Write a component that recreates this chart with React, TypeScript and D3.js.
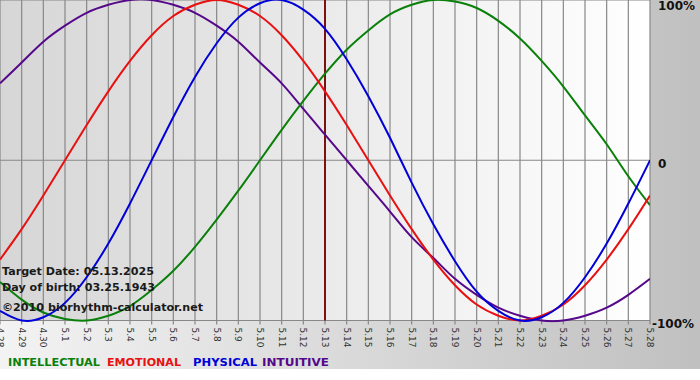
import React from "react";
import * as d3 from "d3";

const days = ["4.28","4.29","4.30","5.1","5.2","5.3","5.4","5.5","5.6","5.7","5.8","5.9","5.10","5.11","5.12","5.13","5.14","5.15","5.16","5.17","5.18","5.19","5.20","5.21","5.22","5.23","5.24","5.25","5.26","5.27","5.28"];
const targetDay = "5.13";

const intellectual = [-0.76,-0.87,-0.95,-0.99,-1.0,-0.97,-0.91,-0.81,-0.69,-0.54,-0.37,-0.19,0,0.19,0.37,0.54,0.69,0.81,0.91,0.97,1.0,0.99,0.95,0.87,0.76,0.62,0.46,0.28,0.1,-0.1,-0.28];
const emotional = [-0.62,-0.43,-0.22,0,0.22,0.43,0.62,0.78,0.9,0.97,1.0,0.97,0.9,0.78,0.62,0.43,0.22,0,-0.22,-0.43,-0.62,-0.78,-0.9,-0.97,-1.0,-0.97,-0.9,-0.78,-0.62,-0.43,-0.22];
const physical = [-0.94,-1.0,-0.98,-0.89,-0.73,-0.52,-0.27,0,0.27,0.52,0.73,0.89,0.98,1.0,0.94,0.82,0.63,0.4,0.14,-0.14,-0.4,-0.63,-0.82,-0.94,-1.0,-0.98,-0.89,-0.73,-0.52,-0.27,0];
const intuitive = [0.48,0.61,0.74,0.84,0.92,0.97,1.0,1.0,0.97,0.92,0.84,0.74,0.61,0.48,0.32,0.16,0,-0.16,-0.32,-0.48,-0.61,-0.74,-0.84,-0.92,-0.97,-1.0,-1.0,-0.97,-0.92,-0.84,-0.74];

const yTicks = [1, 0, -1];
const yTickLabels = ["100%", "0", "-100%"];

const seriesNames = ["INTELLECTUAL", "EMOTIONAL", "PHYSICAL", "INTUITIVE"];
const seriesColors = ["#0a800a", "#e81010", "#0000d8", "#55088a"];
const seriesData = [intellectual, emotional, physical, intuitive];
const drawOrder = [3, 0, 1, 2];

const infoLines = ["Target Date: 05.13.2025", "Day of birth: 03.25.1943", "\u00a92010 biorhythm-calculator.net"];

const W = 700, H = 380;
const plotL = 0, plotR = 650, plotT = 0, plotB = 320.5;

export default function App() {
  const x = d3.scalePoint<string>().domain(days).range([plotL, plotR]);
  const y = d3.scaleLinear().domain([-1, 1]).range([plotB, plotT]);
  const line = (vals: number[]) =>
    d3.line<number>()
      .x((_, i) => x(days[i]) as number)
      .y((v) => y(v))
      .curve(d3.curveNatural)(vals) || "";

  const legendX = [8, 107, 193, 262];
  const legendW = [92, 74, 64, 67];

  return (
    <svg width={W} height={H} style={{ position: "fixed", left: 0, top: 0, fontFamily: "'DejaVu Sans', Verdana, sans-serif" }}>
      <defs>
        <linearGradient id="bg" x1="0" x2="1" y1="0" y2="0">
          <stop offset="0" stopColor="#f3f3f3" />
          <stop offset="1" stopColor="#c0c0c0" />
        </linearGradient>
        <linearGradient id="plotbg" x1="0" x2="1" y1="0" y2="0">
          <stop offset="0" stopColor="#d6d6d6" />
          <stop offset="1" stopColor="#ffffff" />
        </linearGradient>
        <clipPath id="clip">
          <rect x={plotL} y={plotT - 2} width={plotR - plotL} height={plotB - plotT + 4} />
        </clipPath>
      </defs>
      <rect x={0} y={0} width={W} height={H} fill="#ffffff" />
      <rect x={0} y={0} width={W} height={369} fill="url(#bg)" />
      <rect x={plotL} y={plotT} width={plotR - plotL} height={plotB - plotT} fill="url(#plotbg)" />
      {days.map((d) => (
        <line key={d} x1={x(d)} x2={x(d)} y1={plotT} y2={plotB + 4} stroke="#888" strokeWidth={1.2} />
      ))}
      {yTicks.map((t) => (
        <line key={t} x1={plotL} x2={plotR} y1={y(t)} y2={y(t)} stroke="#888" strokeWidth={1.2} />
      ))}
      <line x1={x(targetDay)} x2={x(targetDay)} y1={plotT} y2={plotB} stroke="#7a1212" strokeWidth={2} />
      <g clipPath="url(#clip)">
        {drawOrder.map((k) => (
          <path key={k} d={line(seriesData[k])} fill="none" stroke={seriesColors[k]} strokeWidth={2} />
        ))}
      </g>
      {days.map((d) => (
        <text key={d} transform={`translate(${x(d)},${plotB + 7}) rotate(90)`} fontSize={9} fill="#333" dominantBaseline="central">
          {d}
        </text>
      ))}
      {yTicks.map((t, i) => (
        <text key={t} x={t === -1 ? 652 : 658} y={y(t) + (t === 1 ? 6 : 4)} fontSize={12} fontWeight="bold" fill="#111" dominantBaseline="middle">
          {yTickLabels[i]}
        </text>
      ))}
      {infoLines.map((s, i) => (
        <text key={i} x={2} y={[275, 291, 311][i]} fontSize={11} fontWeight="bold" fill="#1a1a1a"
          textLength={[152, 153, 201][i]} lengthAdjust="spacingAndGlyphs">
          {s}
        </text>
      ))}
      {seriesNames.map((s, i) => (
        <text key={s} x={legendX[i]} y={366} fontSize={11} fontWeight="bold" fill={seriesColors[i]}
          textLength={legendW[i]} lengthAdjust="spacingAndGlyphs">
          {s}
        </text>
      ))}
    </svg>
  );
}
